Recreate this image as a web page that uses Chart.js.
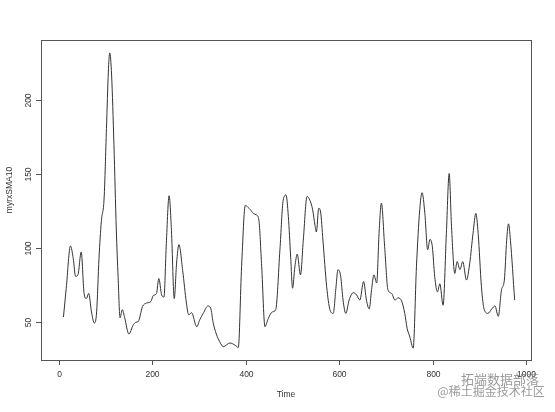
<!DOCTYPE html>
<html>
<head>
<meta charset="utf-8">
<script src="https://cdn.jsdelivr.net/npm/chart.js@4.4.0/dist/chart.umd.min.js"></script>
<style>
  html, body { margin: 0; padding: 0; background: #fff; }
  #wrap { width: 555px; height: 412px; }
</style>
</head>
<body>
<div id="wrap"><canvas id="chart-sma"></canvas></div>
<script>
const timePoints = [
  10, 16, 25, 31, 36, 41, 48, 54, 59, 64, 70, 76, 81, 86, 91, 97, 102, 106, 109, 113,
  118, 123, 127, 131, 136, 141, 150, 159, 165, 170, 179, 188, 197, 202, 209, 214, 220, 225, 230, 236,
  241, 247, 252, 257, 265, 273, 278, 284, 295, 302, 309, 319, 325, 330, 337, 344, 352, 366, 377, 384,
  391, 399, 405, 410, 416, 423, 428, 434, 441, 448, 457, 464, 473, 480, 486, 491, 496, 500, 505, 510,
  517, 523, 531, 537, 543, 548, 551, 556, 560, 565, 573, 580, 587, 593, 597, 603, 608, 614, 621, 630,
  637, 644, 652, 658, 664, 669, 674, 680, 685, 690, 697, 704, 712, 719, 726, 733, 740, 745, 751, 758,
  765, 772, 777, 783, 789, 794, 799, 804, 810, 815, 822, 829, 835, 840, 847, 852, 858, 864, 872, 879,
  886, 892, 897, 904, 910, 918, 926, 933, 940, 947, 953, 958, 962, 966, 975
];
const smaValues = [
  53.5, 73, 101.5, 93, 81, 82, 97.5, 70, 66, 69.5, 57, 49.5, 57, 93, 118, 134, 181, 219, 232, 217,
  170, 113, 80, 53, 58.5, 53, 42, 48, 50, 50.5, 60.5, 63, 64, 68, 69.5, 79.5, 68.5, 67, 103, 135.5,
  112, 66, 90, 102.5, 85, 63, 55, 56.5, 47, 52, 56, 61, 59.5, 50, 42, 37, 33.5, 36, 34.5, 33,
  87.5, 129, 127.5, 126, 123.5, 122.5, 119, 87.5, 47, 52.5, 57, 58.5, 99, 132.5, 136, 121.5, 94, 73, 87.5, 96,
  82, 105.5, 135, 132.5, 126, 115.5, 111, 127, 124.5, 105.5, 74, 58.5, 56, 74, 85.5, 81, 65, 56, 65, 70,
  68.5, 65, 77.5, 65, 59, 72, 82, 76.5, 110, 130.5, 101, 72, 69.5, 65, 66.5, 64.5, 56, 46, 40, 32.5,
  87.5, 126, 137.5, 123.5, 99, 106, 101, 81, 70.5, 76, 61.5, 110, 150.5, 114.5, 83, 91, 85.5, 91, 78.5, 90,
  110, 123.5, 110, 74, 58.5, 56, 59, 61, 54, 72, 78.5, 105.5, 116.5, 105.5, 65
];
const xTicks = [0, 200, 400, 600, 800, 1000];
const yTicks = [50, 100, 150, 200];
const xTitle = "Time";
const yTitle = "myrxSMA10";
const watermark = ["拓端数据部落", "@稀土掘金技术社区"];

// R base graphics style frame, axes and labels
const rBasePlot = {
  id: "rBasePlot",
  afterDraw(chart) {
    const ctx = chart.ctx;
    const area = chart.chartArea;
    const xs = chart.scales.x;
    const ys = chart.scales.y;
    ctx.save();
    ctx.strokeStyle = "#555";
    ctx.lineWidth = 1;
    ctx.strokeRect(area.left + 0.5, area.top + 0.5, area.right - area.left, area.bottom - area.top);

    ctx.fillStyle = "#333";
    ctx.font = "8.5px 'Liberation Sans', Arial, sans-serif";

    // x axis
    const x0 = Math.round(xs.getPixelForValue(xTicks[0])) + 0.5;
    const x1 = Math.round(xs.getPixelForValue(xTicks[xTicks.length - 1])) + 0.5;
    ctx.beginPath();
    ctx.moveTo(x0, area.bottom + 0.5);
    ctx.lineTo(x1, area.bottom + 0.5);
    ctx.stroke();
    ctx.textAlign = "center";
    ctx.textBaseline = "middle";
    xTicks.forEach((t) => {
      const px = Math.round(xs.getPixelForValue(t)) + 0.5;
      ctx.beginPath();
      ctx.moveTo(px, area.bottom);
      ctx.lineTo(px, area.bottom + 5);
      ctx.stroke();
      ctx.fillText(String(t), px, area.bottom + 15);
    });

    // y axis
    const y0 = Math.round(ys.getPixelForValue(yTicks[0])) + 0.5;
    const y1 = Math.round(ys.getPixelForValue(yTicks[yTicks.length - 1])) + 0.5;
    ctx.beginPath();
    ctx.moveTo(area.left + 0.5, y0);
    ctx.lineTo(area.left + 0.5, y1);
    ctx.stroke();
    yTicks.forEach((v) => {
      const py = Math.round(ys.getPixelForValue(v)) + 0.5;
      ctx.beginPath();
      ctx.moveTo(area.left, py);
      ctx.lineTo(area.left - 5, py);
      ctx.stroke();
      ctx.save();
      ctx.translate(area.left - 12, py);
      ctx.rotate(-Math.PI / 2);
      ctx.fillText(String(v), 0, 0);
      ctx.restore();
    });

    // titles
    ctx.fillText(xTitle, (area.left + area.right) / 2, area.bottom + 35);
    ctx.save();
    ctx.translate(10, (area.top + area.bottom) / 2 - 10);
    ctx.rotate(-Math.PI / 2);
    ctx.fillText(yTitle, 0, 0);
    ctx.restore();

    // watermark
    ctx.fillStyle = "rgba(120,120,120,0.75)";
    ctx.font = "13px 'Noto Sans CJK SC', sans-serif";
    ctx.fillText(watermark[0], 500, 379);
    ctx.font = "12px 'Noto Sans CJK SC', sans-serif";
    ctx.fillText(watermark[1], 491, 391);
    ctx.restore();
  },
};

function createChartSMA() {
  const ctx = document.getElementById("chart-sma").getContext("2d");
  new Chart(ctx, {
    type: "line",
    plugins: [rBasePlot],
    data: {
      datasets: [
        {
          label: yTitle,
          data: timePoints.map((t, i) => ({ x: t, y: smaValues[i] })),
          borderColor: "#333",
          borderWidth: 1,
          pointRadius: 0,
          cubicInterpolationMode: "monotone",
          fill: false,
        },
      ],
    },
    options: {
      responsive: true,
      maintainAspectRatio: false,
      animation: false,
      layout: {
        padding: { left: 41, top: 40, right: 24, bottom: 52 },
      },
      plugins: {
        legend: { display: false },
        tooltip: { enabled: false },
      },
      scales: {
        x: { type: "linear", min: -38, max: 1010, display: false },
        y: { type: "linear", min: 24.5, max: 240.7, display: false },
      },
    },
  });
}

createChartSMA();
</script>
</body>
</html>
